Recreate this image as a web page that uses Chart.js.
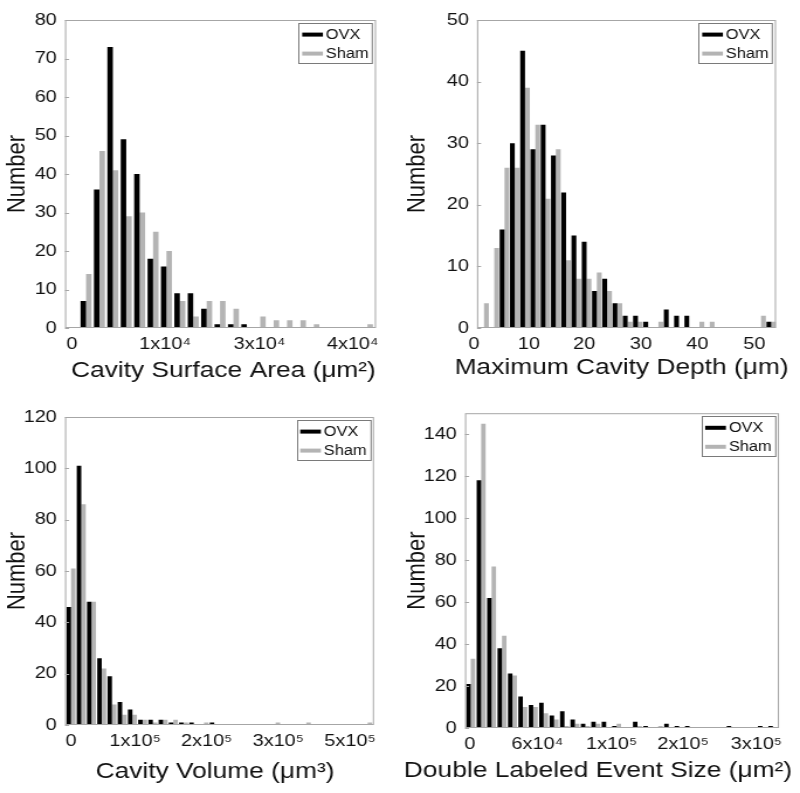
<!DOCTYPE html>
<html>
<head>
<meta charset="utf-8">
<script src="https://cdn.jsdelivr.net/npm/chart.js@4/dist/chart.umd.min.js"></script>
<style>
html,body{margin:0;padding:0;background:#fff;width:800px;height:793px;overflow:hidden;position:relative;}
canvas.pn{position:absolute;transform-origin:0 0;transform:scaleX(1.169591);}
</style>
</head>
<body>
<canvas id="c1" class="pn" width="342" height="396" style="left:0px;top:0px;width:342px;height:396px"></canvas>
<canvas id="c2" class="pn" width="342" height="396" style="left:400px;top:0px;width:342px;height:396px"></canvas>
<canvas id="c3" class="pn" width="342" height="397" style="left:0px;top:396px;width:342px;height:397px"></canvas>
<canvas id="c4" class="pn" width="342" height="397" style="left:400px;top:396px;width:342px;height:397px"></canvas>
<script>
// ---------------- data ----------------
const seriesNames = ['OVX', 'Sham'];

// Cavity Surface Area
const areaBins = [0,1,2,3,4,5,6,7,8,9,10,11,12,13,14,15,16,17,18,19,20,21];
const areaOVX  = [7,36,73,49,40,18,16,9,9,5,1,1,1,0,0,0,0,0,0,0,0,0];
const areaSham = [14,46,41,29,30,25,20,7,3,7,7,5,0,3,2,2,2,1,0,0,0,1];
const areaTickPos = [-1.05,5.9,12.95,19.9];
const areaTickLabels = ['0','1x10⁴','3x10⁴','4x10⁴'];

// Maximum Cavity Depth
const depthBins = [0,1,2,3,4,5,6,7,8,9,10,11,12,13,14,15,16,17,18,19,20,21,22,23,24,25,26,27,28];
const depthOVX  = [0,0,16,30,45,29,33,28,22,15,14,6,8,4,2,2,1,0,3,2,2,0,0,0,0,0,0,0,1];
const depthSham = [4,13,26,26,39,33,21,29,11,8,8,9,6,4,1,1,0,1,0,0,0,1,1,0,0,0,0,2,1];
const depthTickPos = [-0.98,4.38,9.77,15.3,20.8,26.35];
const depthTickLabels = ['0','10','20','30','40','50'];

// Cavity Volume
const volBins = [0,1,2,3,4,5,6,7,8,9,10,11,12,13,14,15,16,17,18,19,20,21,22,23,24,25,26,27,28,29];
const volOVX  = [46,101,48,26,19,9,6,2,2,2,1,1,1,0,1,0,0,0,0,0,0,0,0,0,0,0,0,0,0,0];
const volSham = [61,86,48,22,8,4,4,2,1,2,2,1,0,1,0,0,0,0,0,0,1,0,0,1,0,0,0,0,0,1];
const volTickPos = [0,6.26,13.26,20.26,27.27];
const volTickLabels = ['0','1x10⁵','2x10⁵','3x10⁵','5x10⁵'];

// Double Labeled Event Size
const eventBins = [0,1,2,3,4,5,6,7,8,9,10,11,12,13,14,15,16,17,18,19,20,21,22,23,24,25,26,27,28,29];
const eventOVX  = [21,118,62,38,26,15,11,12,6,8,4,2,3,3,1,0,3,1,0,2,1,1,0,0,0,1,0,0,1,1];
const eventSham = [33,145,77,44,25,10,10,7,4,1,2,1,2,0,2,0,1,0,1,0,0,0,0,0,0,0,0,0,0,0];
const eventTickPos = [-0.07,6.39,13.52,20.38,27.42];
const eventTickLabels = ['0','6x10⁴','1x10⁵','2x10⁵','3x10⁵'];

const yTitle = 'Number';
const xTitles = ['Cavity Surface Area (μm²)','Maximum Cavity Depth (μm)','Cavity Volume (μm³)','Double Labeled Event Size (μm²)'];

// ---------------- rendering ----------------
const S = 400 / 342;           // horizontal stretch of the reference
const W = 342;
const FONT = "'Liberation Sans', Arial, Helvetica, sans-serif";
Chart.defaults.font.family = FONT;
Chart.defaults.color = '#111';

const framePlugin = {
  id: 'frame',
  afterDatasetsDraw(chart, args, o) {
    const ctx = chart.ctx, a = chart.chartArea, y = chart.scales.y;
    ctx.save();
    // frame
    ctx.strokeStyle = '#a6a6a6';
    ctx.lineWidth = 1;
    ctx.strokeRect(a.left + 0.5, a.top + 0.5, a.right - a.left - 1, a.bottom - a.top - 1);
    // inward y tick marks
    ctx.beginPath();
    y.ticks.forEach(t => {
      const py = Math.round(y.getPixelForValue(t.value)) + 0.5;
      ctx.moveTo(a.left, py); ctx.lineTo(a.left + 3.5, py);
    });
    ctx.stroke();
    // legend box
    const bw = 62.8, bh = 40;
    const bx = a.right - 3.4 - bw, by = a.top + 3;
    ctx.fillStyle = '#fff';
    ctx.fillRect(bx, by, bw, bh);
    ctx.strokeStyle = '#7a7a7a';
    ctx.strokeRect(Math.round(bx) + 0.5, Math.round(by) + 0.5, bw, bh);
    ctx.font = '14px ' + FONT;
    ctx.textBaseline = 'middle';
    ctx.textAlign = 'left';
    chart.data.datasets.forEach((ds, i) => {
      const ly = by + 11.6 + i * 19;
      ctx.strokeStyle = ds.backgroundColor;
      ctx.lineWidth = 4;
      ctx.beginPath(); ctx.moveTo(bx + 3.1, ly); ctx.lineTo(bx + 20.8, ly); ctx.stroke();
      ctx.fillStyle = '#111';
      ctx.fillText(ds.label, bx + 23.3, ly + 0.5);
    });
    // x-axis title
    ctx.font = '22.5px ' + FONT;
    ctx.textAlign = 'center';
    ctx.textBaseline = 'alphabetic';
    ctx.fillStyle = '#111';
    ctx.fillText(o.text, (a.left + a.right) / 2 + o.dx / S, a.bottom + o.dy);
    ctx.restore();
  }
};

function makeChart(id, p) {
  const H = p.H;
  return new Chart(document.getElementById(id), {
    type: 'bar',
    data: {
      labels: p.bins,
      datasets: [
        { label: seriesNames[0], data: p.ovx, backgroundColor: '#000000' },
        { label: seriesNames[1], data: p.sham, backgroundColor: '#b4b4b4' }
      ]
    },
    options: {
      responsive: false,
      animation: false,
      events: [],
      devicePixelRatio: 1,
      layout: { padding: { left: 0, top: p.t, right: W - p.r / S, bottom: 0 } },
      datasets: { bar: { categoryPercentage: p.cp, barPercentage: 1, borderWidth: 0 } },
      plugins: {
        legend: { display: false },
        tooltip: { enabled: false },
        frame: { text: p.xTitle, dx: p.dx, dy: p.dy }
      },
      scales: {
        x: {
          type: 'linear', min: p.xmin, max: p.xmax, offset: false,
          grid: { display: false, drawTicks: false, tickLength: 0 },
          border: { display: false },
          afterBuildTicks: s => { s.ticks = p.tickPos.map(v => ({ value: v })); },
          afterFit: s => { s.height = H - p.b; },
          ticks: { autoSkip: false, maxRotation: 0, minRotation: 0, padding: 6,
                   font: { size: 17 }, color: '#111',
                   callback: (v, i) => p.tickLabels[i] }
        },
        y: {
          min: 0, max: p.ymax,
          grid: { display: false, drawTicks: false, tickLength: 0 },
          border: { display: false },
          ticks: { stepSize: p.step, includeBounds: false, padding: 7, font: { size: 17 }, color: '#111' },
          title: { display: true, text: yTitle, font: { size: 22 }, color: '#111', padding: { top: 2, bottom: 0 } },
          afterFit: s => { s.width = p.l / S; }
        }
      }
    },
    plugins: [framePlugin]
  });
}

makeChart('c1', { H: 396, l: 65, r: 376, t: 20, b: 328, bins: areaBins, ovx: areaOVX, sham: areaSham,
  xmin: -1.57, xmax: 21.64, cp: 0.82, ymax: 80, step: 10,
  tickPos: areaTickPos, tickLabels: areaTickLabels, xTitle: xTitles[0], dx: 3, dy: 48.5 });
makeChart('c2', { H: 396, l: 77, r: 376, t: 20, b: 328, bins: depthBins, ovx: depthOVX, sham: depthSham,
  xmin: -0.68, xmax: 28.46, cp: 0.94, ymax: 50, step: 10,
  tickPos: depthTickPos, tickLabels: depthTickLabels, xTitle: xTitles[1], dx: -5, dy: 45.5 });
makeChart('c3', { H: 397, l: 65, r: 374, t: 21, b: 329, bins: volBins, ovx: volOVX, sham: volSham,
  xmin: -0.59, xmax: 29.62, cp: 0.88, ymax: 120, step: 20,
  tickPos: volTickPos, tickLabels: volTickLabels, xTitle: xTitles[2], dx: -4.5, dy: 53 });
makeChart('c4', { H: 397, l: 65, r: 379, t: 17, b: 332, bins: eventBins, ovx: eventOVX, sham: eventSham,
  xmin: -0.55, xmax: 29.59, cp: 0.86, ymax: 150, step: 20,
  tickPos: eventTickPos, tickLabels: eventTickLabels, xTitle: xTitles[3], dx: -24, dy: 48.5 });
</script>
</body>
</html>
